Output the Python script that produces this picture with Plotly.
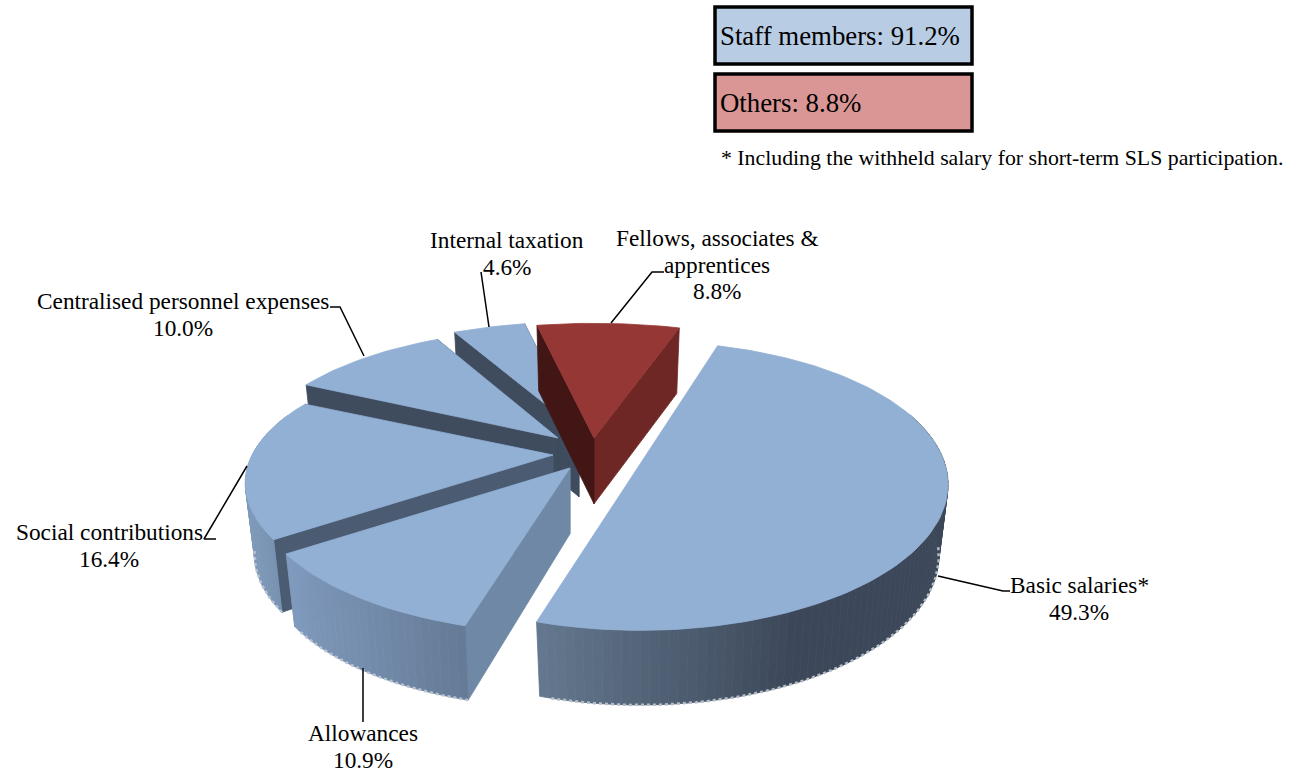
import math
import plotly.graph_objects as go

# ---- data ----
categories = ["Basic salaries*", "Allowances", "Social contributions",
              "Centralised personnel expenses", "Internal taxation",
              "Fellows, associates &<br>apprentices"]
shares = [49.3, 10.9, 16.4, 10.0, 4.6, 8.8]
summary_labels = ["Staff members: 91.2%", "Others: 8.8%"]
footnote = "* Including the withheld salary for short-term SLS participation."

# ---- styling / layout of the 3D look ----
FIRST_ANGLE = 19.0
RX, RY, DEPTH, PERSP = 315.0, 140.0, 70.0, 0.22
apex_x = [640, 570, 553, 558, 579, 594]
apex_y = [454, 468, 455, 438, 431, 438]
radius_scale = [0.956, 0.97, 0.955, 0.97, 1.0, 1.05]
flatten = [1.08, 1.0, 1.0, 1.03, 1.0, 1.0]
top_colors = ["#92afd4"] * 5 + ["#953735"]
rim_left = ["#64788f", "#7f9abd", "#7f9aba", "#7f9aba", "#7f9aba", "#6e2725"]
rim_right = ["#3c4859", "#647a95", "#6f88a5", "#6f88a5", "#6f88a5", "#6e2725"]
start_wall = ["#92afd4", "#6f88a5", "#4b5c72", "#3e4c5e", "#3e4c5e", "#411614"]
end_wall = ["#3e4c5e", "#6f88a5", "#4b5c72", "#3e4c5e", "#3e4c5e", "#6e2725"]
edge_colors = ["#b4bcc6", "#b8c4d2", "#b8c4d2", None, None, "#c9a09e"]
draw_order = [4, 3, 2, 5, 1, 0]

label_x = [1079, 363, 109, 183, 507, 717]
label_y = [585, 733, 532, 301, 240, 238]
LINE_GAP = 26.5
leaders = [
    [(938, 576), (1003, 591), (1010, 591)],
    [(363, 668), (363, 722)],
    [(247, 466), (204, 539), (216, 539)],
    [(364, 356), (340, 307), (330, 307)],
    [(489, 327), (481, 272)],
    [(611, 323), (652, 272), (664, 272)],
]
FONT = "Liberation Serif"
BLACK = "#000000"


def hex_mix(a, b, t):
    ca = [int(a[i:i + 2], 16) for i in (1, 3, 5)]
    cb = [int(b[i:i + 2], 16) for i in (1, 3, 5)]
    return "rgb(%d,%d,%d)" % tuple(round(p + (q - p) * t) for p, q in zip(ca, cb))


def project(i, theta, lift=0.0):
    """Project a disc point of slice i (theta clockwise from the back)."""
    s = math.sin(math.radians(theta))
    c = math.cos(math.radians(theta))
    scale = 1 - PERSP * c
    shrink = 1 - 0.03 * lift / DEPTH
    px = apex_x[i] + RX * radius_scale[i] * s * scale * shrink
    py = apex_y[i] - RY * radius_scale[i] * flatten[i] * c * scale + lift * (1 - 0.3 * PERSP * c)
    return px, py


def polygon(xs, ys, color):
    return go.Scatter(x=xs + xs[:1], y=ys + ys[:1], mode="lines", fill="toself",
                      fillcolor=color, line=dict(color=color, width=0.8),
                      hoverinfo="skip", showlegend=False)


fig = go.Figure()
edges = [FIRST_ANGLE]
for v in shares:
    edges.append(edges[-1] + v * 3.6)

for i in draw_order:
    a0, a1 = edges[i], edges[i + 1]
    steps = max(int((a1 - a0) / 1.5), 6)
    angles = [a0 + (a1 - a0) * k / steps for k in range(steps + 1)]
    ax, ay = apex_x[i], apex_y[i]
    almost_half = i == 0
    # radial walls (the almost-half slice shows none: its cut face looks away)
    if not almost_half:
        for ang, col in ((a1, end_wall[i]), (a0, start_wall[i])):
            px, py = project(i, ang)
            qx, qy = project(i, ang, DEPTH)
            fig.add_trace(polygon([ax, px, qx, ax], [ay, py, qy, ay + DEPTH * 0.94], col))
    # rim strips with gradient along the screen
    xs_all = [project(i, a)[0] for a in angles]
    lo, hi = min(xs_all), max(xs_all)
    span = (hi - lo) or 1
    visible = []
    for k in range(steps):
        if math.cos(math.radians(angles[k])) >= 0.3:
            continue
        p0 = project(i, angles[k])
        p1 = project(i, angles[k + 1])
        q0 = project(i, angles[k], DEPTH)
        q1 = project(i, angles[k + 1], DEPTH)
        t = ((p0[0] + p1[0]) / 2 - lo) / span
        t = min(1.0, t * 1.6) if i == 0 else t
        fig.add_trace(polygon([p0[0], p1[0], q1[0], q0[0]], [p0[1], p1[1], q1[1], q0[1]],
                              hex_mix(rim_left[i], rim_right[i], t)))
        if math.cos(math.radians(angles[k])) < -0.15:
            visible.append(q0)
    if edge_colors[i] and visible:
        fig.add_trace(go.Scatter(x=[q[0] for q in visible], y=[q[1] for q in visible], mode="lines",
                                 line=dict(color=edge_colors[i], width=2.5, dash="3px,3px"),
                                 hoverinfo="skip", showlegend=False))
    # top face
    pts = [project(i, a) for a in angles]
    top_x = [p[0] for p in pts]
    top_y = [p[1] for p in pts]
    if not almost_half:
        top_x = [ax] + top_x
        top_y = [ay] + top_y
    fig.add_trace(polygon(top_x, top_y, top_colors[i]))

# leader lines
for path in leaders:
    fig.add_trace(go.Scatter(x=[p[0] for p in path], y=[p[1] for p in path], mode="lines",
                             line=dict(color=BLACK, width=1.5), hoverinfo="skip", showlegend=False))

annotations = []
for name, value, lx, ly in zip(categories, shares, label_x, label_y):
    lines = name.split("<br>") + [f"{value:.1f}%"]
    for n, line in enumerate(lines):
        annotations.append(dict(x=lx, y=ly + n * LINE_GAP, xref="x", yref="y", showarrow=False,
                                text=line, font=dict(family=FONT, size=23.3, color=BLACK)))

shapes = []
for text, y0, y1, fill in zip(summary_labels, (7, 74), (64, 131), ("#b8cce4", "#d99694")):
    shapes.append(dict(type="rect", x0=715, x1=972, y0=y0, y1=y1, xref="x", yref="y",
                       fillcolor=fill, line=dict(color=BLACK, width=3.5)))
    annotations.append(dict(x=718, y=(y0 + y1) / 2, xref="x", yref="y", xanchor="left",
                            showarrow=False, text=text,
                            font=dict(family=FONT, size=26.8, color=BLACK)))
annotations.append(dict(x=719, y=158, xref="x", yref="y", xanchor="left", showarrow=False,
                        text=footnote, font=dict(family=FONT, size=21.8, color=BLACK)))

fig.update_layout(
    width=1295, height=772, margin=dict(l=0, r=0, t=0, b=0),
    paper_bgcolor="white", plot_bgcolor="white", showlegend=False,
    xaxis=dict(range=[0, 1295], visible=False, fixedrange=True),
    yaxis=dict(range=[772, 0], visible=False, fixedrange=True),
    shapes=shapes, annotations=annotations,
)
fig.write_html("out.html", config={"displayModeBar": False},
               post_script="document.body.style.margin='0';document.body.style.overflow='hidden';")
